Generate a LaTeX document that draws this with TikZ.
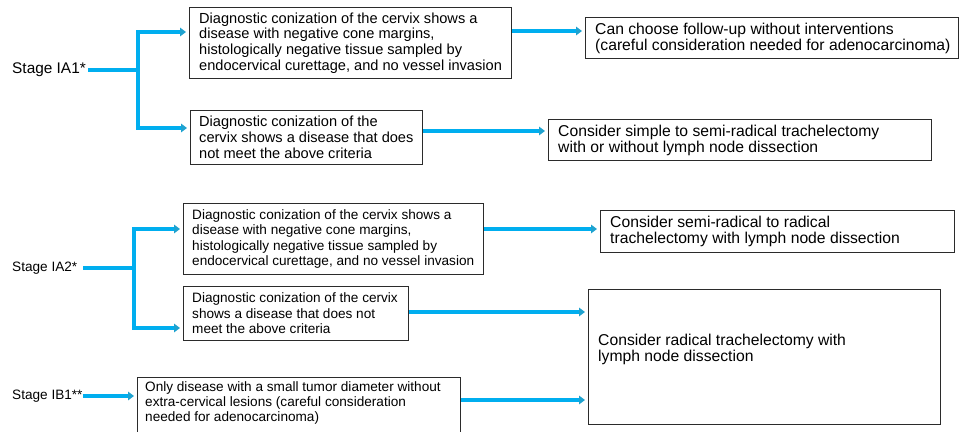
\documentclass[tikz,border=0pt]{standalone}
\usepackage{fontspec}
\setmainfont{Liberation Sans}
\usetikzlibrary{arrows.meta}
\definecolor{flow}{HTML}{00AEEF}
\definecolor{tipc}{HTML}{1FA2CF}
\definecolor{frame}{HTML}{2B2B2B}
\begin{document}
\begin{tikzpicture}[x=1pt,y=-1pt,
  box/.style={draw=frame, line width=0.9pt, rectangle, inner sep=0pt, anchor=north west},
  txt/.style={inner sep=0pt, align=left, anchor=west},
  fa/.style={font=\fontsize{14.6}{15.7}\selectfont},
  fb/.style={font=\fontsize{15.7}{16}\selectfont},
  fc/.style={font=\fontsize{13.6}{15.4}\selectfont},
  wire/.style={draw=flow, line width=3.2pt},
  arr/.style={wire, -{Triangle[length=6pt,width=8.5pt,color=tipc]}, shorten >=3pt}]
\useasboundingbox (0,0) rectangle (960,431);

% ---- Stage IA1 ----
\node[txt, font=\fontsize{15.4}{16}\selectfont] (s1) at (12,70) {Stage IA1*};
\node[box, minimum width=322, minimum height=71] (A1) at (189,7) {};
\node[txt, fa] (A1t) at ([xshift=10pt]A1.west) {Diagnostic conization of the cervix shows a\\disease with negative cone margins,\\histologically negative tissue sampled by\\endocervical curettage, and no vessel invasion};
\node[box, minimum width=232, minimum height=54] (A2) at (190,110) {};
\node[txt, fa] (A2t) at ([xshift=9pt]A2.west) {Diagnostic conization of the\\cervix shows a disease that does\\not meet the above criteria};
\node[box, minimum width=373, minimum height=41] (B1) at (585,17) {};
\node[txt, fb] (B1t) at ([xshift=10pt]B1.west) {Can choose follow-up without interventions\\(careful consideration needed for adenocarcinoma)};
\node[box, minimum width=383, minimum height=41] (B2) at (548,119) {};
\node[txt, fb] (B2t) at ([xshift=10pt]B2.west) {Consider simple to semi-radical trachelectomy\\with or without lymph node dissection};

\coordinate (j1) at (138,70);
\coordinate (y1a) at (0,32);
\coordinate (y1b) at (0,128);
\coordinate (r1a) at (0,31);
\coordinate (r1b) at (0,131);
\draw[wire, shorten <=2pt] (s1.east) -- (j1);
\draw[arr] (j1) |- (A1.west |- y1a);
\draw[arr] (j1) |- (A2.west |- y1b);
\draw[arr] (A1.east |- r1a) -- (B1.west |- r1a);
\draw[arr] (A2.east |- r1b) -- (B2.west |- r1b);

% ---- Stage IA2 ----
\node[txt, fc] (s2) at (12,268) {Stage IA2*};
\node[box, minimum width=300, minimum height=71] (C1) at (183,203) {};
\node[txt, fc] (C1t) at ([xshift=9pt]C1.west) {Diagnostic conization of the cervix shows a\\disease with negative cone margins,\\histologically negative tissue sampled by\\endocervical curettage, and no vessel invasion};
\node[box, minimum width=225, minimum height=54] (C2) at (183,286) {};
\node[txt, fc] (C2t) at ([xshift=9pt]C2.west) {Diagnostic conization of the cervix\\shows a disease that does not\\meet the above criteria};
\node[box, minimum width=354, minimum height=42] (D1) at (600,210) {};
\node[txt, fb] (D1t) at ([xshift=10pt]D1.west) {Consider semi-radical to radical\\trachelectomy with lymph node dissection};
\node[box, minimum width=352, minimum height=135] (D2) at (588,289) {};
\node[txt, fb] (D2t) at ([xshift=10pt,yshift=8pt]D2.west) {Consider radical trachelectomy with\\lymph node dissection};

\coordinate (j2) at (134,268);
\coordinate (y2a) at (0,229);
\coordinate (y2b) at (0,328);
\coordinate (r2b) at (0,312);
\draw[wire, shorten <=6pt] (s2.east) -- (j2);
\draw[arr] (j2) |- (C1.west |- y2a);
\draw[arr] (j2) |- (C2.west |- y2b);
\draw[arr] (C1.east |- y2a) -- (D1.west |- y2a);
\draw[arr] (C2.east |- r2b) -- (D2.west |- r2b);

% ---- Stage IB1 ----
\node[txt, fc] (s3) at (12,396) {Stage IB1**};
\node[box, minimum width=323, minimum height=62] (E) at (137,377) {};
\node[txt, fc, anchor=north west] (Et) at (145,381) {Only disease with a small tumor diameter without\\extra-cervical lesions (careful consideration\\needed for adenocarcinoma)};
\coordinate (y3) at (0,396);
\coordinate (r3) at (0,400);
\draw[arr] (s3.east) -- (E.west |- y3);
\draw[arr] (E.east |- r3) -- (D2.west |- r3);
\end{tikzpicture}
\end{document}
